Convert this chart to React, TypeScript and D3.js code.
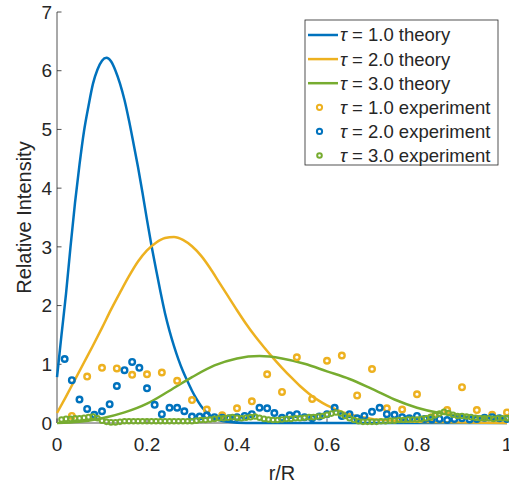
import React from "react";
import * as d3 from "d3";

// ---------- data ----------
const blueTheoryX = [0, 0.01, 0.02, 0.03, 0.04, 0.05, 0.06, 0.07, 0.08, 0.09, 0.1, 0.11, 0.12, 0.13, 0.14, 0.15, 0.16, 0.17, 0.18, 0.19, 0.2, 0.21, 0.22, 0.23, 0.24, 0.25, 0.26, 0.27, 0.28, 0.29, 0.3, 0.31, 0.32, 0.33, 0.34, 0.36, 0.38, 0.42, 0.5, 1.0];
const blueTheoryY = [0.78, 1.5, 2.2, 3.0, 3.75, 4.4, 4.97, 5.4, 5.78, 6.02, 6.17, 6.22, 6.16, 6.0, 5.78, 5.5, 5.15, 4.76, 4.36, 3.92, 3.46, 3.02, 2.62, 2.23, 1.87, 1.57, 1.31, 1.08, 0.88, 0.71, 0.55, 0.41, 0.29, 0.2, 0.13, 0.05, 0.02, 0, 0, 0];

const orangeTheoryX = [0, 0.02, 0.04, 0.06, 0.08, 0.1, 0.12, 0.14, 0.16, 0.18, 0.2, 0.22, 0.24, 0.26, 0.28, 0.3, 0.32, 0.34, 0.36, 0.38, 0.4, 0.42, 0.44, 0.46, 0.48, 0.5, 0.52, 0.54, 0.56, 0.58, 0.6, 0.62, 0.64, 0.66, 0.68, 0.7, 0.75, 0.8, 0.9, 1.0];
const orangeTheoryY = [0.17, 0.45, 0.74, 1.03, 1.32, 1.62, 1.93, 2.22, 2.5, 2.75, 2.94, 3.07, 3.15, 3.17, 3.12, 3.01, 2.85, 2.64, 2.4, 2.16, 1.92, 1.69, 1.48, 1.29, 1.11, 0.94, 0.78, 0.63, 0.5, 0.39, 0.3, 0.23, 0.17, 0.13, 0.1, 0.07, 0.04, 0.02, 0.01, 0];

const greenTheoryX = [0, 0.05, 0.1, 0.15, 0.2, 0.25, 0.3, 0.35, 0.4, 0.45, 0.5, 0.55, 0.6, 0.65, 0.7, 0.75, 0.8, 0.85, 0.9, 0.95, 1.0];
const greenTheoryY = [0, 0.02, 0.08, 0.18, 0.33, 0.55, 0.78, 0.98, 1.1, 1.14, 1.1, 1.01, 0.88, 0.75, 0.58, 0.4, 0.26, 0.17, 0.12, 0.09, 0.07];

// tau = 1.0 experiment (orange), x = 1/30 ... 30/30
const exp1X = [0.033, 0.067, 0.1, 0.133, 0.167, 0.2, 0.233, 0.267, 0.3, 0.333, 0.367, 0.4, 0.433, 0.467, 0.5, 0.533, 0.567, 0.6, 0.633, 0.667, 0.7, 0.733, 0.767, 0.8, 0.833, 0.867, 0.9, 0.933, 0.967, 1.0];
const exp1Y = [0.12, 0.79, 0.94, 0.93, 0.82, 0.83, 0.86, 0.72, 0.39, 0.23, 0.13, 0.25, 0.37, 0.83, 0.53, 1.12, 0.41, 1.06, 1.15, 0.47, 0.92, 0.25, 0.23, 0.49, 0.1, 0.22, 0.61, 0.22, 0.14, 0.18];

// tau = 2.0 experiment (blue), x = 1/60 ... 60/60
const exp2X = [0.017, 0.033, 0.05, 0.067, 0.083, 0.1, 0.117, 0.133, 0.15, 0.167, 0.183, 0.2, 0.217, 0.233, 0.25, 0.267, 0.283, 0.3, 0.317, 0.333, 0.35, 0.367, 0.383, 0.4, 0.417, 0.433, 0.45, 0.467, 0.483, 0.5, 0.517, 0.533, 0.55, 0.567, 0.583, 0.6, 0.617, 0.633, 0.65, 0.667, 0.683, 0.7, 0.717, 0.733, 0.75, 0.767, 0.783, 0.8, 0.817, 0.833, 0.85, 0.867, 0.883, 0.9, 0.917, 0.933, 0.95, 0.967, 0.983, 1.0];
const exp2Y = [1.09, 0.73, 0.4, 0.24, 0.14, 0.2, 0.32, 0.63, 0.9, 1.04, 0.94, 0.59, 0.31, 0.15, 0.26, 0.26, 0.2, 0.11, 0.11, 0.13, 0.1, 0.09, 0.08, 0.1, 0.12, 0.15, 0.26, 0.25, 0.17, 0.09, 0.13, 0.15, 0.1, 0.08, 0.11, 0.15, 0.26, 0.12, 0.15, 0.08, 0.12, 0.19, 0.26, 0.15, 0.14, 0.1, 0.08, 0.12, 0.07, 0.06, 0.07, 0.05, 0.07, 0.08, 0.06, 0.07, 0.09, 0.1, 0.08, 0.07];

// tau = 3.0 experiment (green), x = 0.01 ... 1.00
const exp3X = [0.01, 0.02, 0.03, 0.04, 0.05, 0.06, 0.07, 0.08, 0.09, 0.1, 0.11, 0.12, 0.13, 0.14, 0.15, 0.16, 0.17, 0.18, 0.19, 0.2, 0.21, 0.22, 0.23, 0.24, 0.25, 0.26, 0.27, 0.28, 0.29, 0.3, 0.31, 0.32, 0.33, 0.34, 0.35, 0.36, 0.37, 0.38, 0.39, 0.4, 0.41, 0.42, 0.43, 0.44, 0.45, 0.46, 0.47, 0.48, 0.49, 0.5, 0.51, 0.52, 0.53, 0.54, 0.55, 0.56, 0.57, 0.58, 0.59, 0.6, 0.61, 0.62, 0.63, 0.64, 0.65, 0.66, 0.67, 0.68, 0.69, 0.7, 0.71, 0.72, 0.73, 0.74, 0.75, 0.76, 0.77, 0.78, 0.79, 0.8, 0.81, 0.82, 0.83, 0.84, 0.85, 0.86, 0.87, 0.88, 0.89, 0.9, 0.91, 0.92, 0.93, 0.94, 0.95, 0.96, 0.97, 0.98, 0.99, 1.0];
const exp3Y = [0.06, 0.07, 0.07, 0.08, 0.08, 0.09, 0.1, 0.11, 0.08, 0.04, 0.02, 0.01, 0.01, 0.02, 0.03, 0.03, 0.03, 0.03, 0.03, 0.03, 0.03, 0.03, 0.03, 0.03, 0.03, 0.03, 0.03, 0.03, 0.03, 0.03, 0.04, 0.05, 0.05, 0.06, 0.07, 0.08, 0.08, 0.09, 0.1, 0.09, 0.08, 0.09, 0.1, 0.11, 0.09, 0.07, 0.06, 0.05, 0.05, 0.06, 0.07, 0.07, 0.08, 0.08, 0.09, 0.1, 0.1, 0.11, 0.12, 0.14, 0.16, 0.18, 0.16, 0.12, 0.08, 0.05, 0.03, 0.02, 0.02, 0.02, 0.02, 0.03, 0.03, 0.04, 0.04, 0.05, 0.05, 0.06, 0.06, 0.06, 0.07, 0.08, 0.1, 0.13, 0.16, 0.19, 0.17, 0.14, 0.12, 0.12, 0.11, 0.1, 0.09, 0.08, 0.08, 0.08, 0.07, 0.08, 0.08, 0.08];

const xTicks = [0, 0.2, 0.4, 0.6, 0.8, 1];
const xTickLabels = ["0", "0.2", "0.4", "0.6", "0.8", "1"];
const yTicks = [0, 1, 2, 3, 4, 5, 6, 7];

const legendTaus = ["1.0", "2.0", "3.0"];
const legendKinds = ["theory", "theory", "theory", "experiment", "experiment", "experiment"];

const BLUE = "#0072BD";
const ORANGE = "#EDB120";
const GREEN = "#77AC30";
const TEXT = "#262626";
const FONT = "'Liberation Sans', Arial, Helvetica, sans-serif";

export default function App() {
  const W = 509;
  const H = 489;
  const x = d3.scaleLinear().domain([0, 1]).range([57, 507]);
  const y = d3.scaleLinear().domain([0, 7]).range([423, 12]);

  const line = d3
    .line<[number, number]>()
    .x((d) => x(d[0]))
    .y((d) => y(d[1]))
    .curve(d3.curveMonotoneX);

  const zip = (a: number[], b: number[]) => a.map((v, i) => [v, b[i]] as [number, number]);

  const theory = [
    { pts: zip(blueTheoryX, blueTheoryY), color: BLUE },
    { pts: zip(orangeTheoryX, orangeTheoryY), color: ORANGE },
    { pts: zip(greenTheoryX, greenTheoryY), color: GREEN },
  ];
  const exps = [
    { pts: zip(exp1X, exp1Y), color: ORANGE, r: 2.8, sw: 2.4 },
    { pts: zip(exp2X, exp2Y), color: BLUE, r: 2.8, sw: 2.4 },
    { pts: zip(exp3X, exp3Y), color: GREEN, r: 2.3, sw: 2 },
  ];

  const legendColors = [BLUE, ORANGE, GREEN, ORANGE, BLUE, GREEN];
  const lg = { x: 305, y: 20, w: 193, h: 145 };
  const rowY = (i: number) => 35 + i * 24.1;

  return (
    <svg
      width={W}
      height={H}
      style={{ position: "absolute", left: 0, top: 0, background: "#fff" }}
      fontFamily={FONT}
    >
      <rect x={0} y={0} width={W} height={H} fill="#fff" />
      {/* axes */}
      <line x1={x(0)} y1={y(7)} x2={x(0)} y2={y(0)} stroke={TEXT} strokeWidth={0.8} />
      <line x1={x(0)} y1={y(0)} x2={x(1)} y2={y(0)} stroke={TEXT} strokeWidth={0.8} />
      {yTicks.map((t) => (
        <g key={"yt" + t}>
          <line x1={x(0)} x2={x(0) + 4.5} y1={y(t)} y2={y(t)} stroke={TEXT} strokeWidth={0.8} />
          <text x={52} y={y(t)} dy="0.35em" textAnchor="end" fontSize={19} fill={TEXT}>
            {t}
          </text>
        </g>
      ))}
      {xTicks.map((t, i) => (
        <g key={"xt" + t}>
          <line x1={x(t)} x2={x(t)} y1={y(0)} y2={y(0) - 4.5} stroke={TEXT} strokeWidth={0.8} />
          <text x={x(t)} y={451} textAnchor="middle" fontSize={19} fill={TEXT}>
            {xTickLabels[i]}
          </text>
        </g>
      ))}
      <text x={(x(0) + x(1)) / 2} y={480} textAnchor="middle" fontSize={20} fill={TEXT}>
        r/R
      </text>
      <text
        transform={`translate(31,${(y(0) + y(7)) / 2}) rotate(-90)`}
        textAnchor="middle"
        fontSize={20}
        fill={TEXT}
      >
        Relative Intensity
      </text>

      {/* theory lines */}
      {theory.map((s, i) => (
        <path key={"th" + i} d={line(s.pts) || ""} fill="none" stroke={s.color} strokeWidth={2.5} strokeLinejoin="round" />
      ))}

      {/* experiment markers */}
      {exps.map((s, i) => (
        <g key={"ex" + i}>
          {s.pts.map((p, j) => (
            <circle key={j} cx={x(p[0])} cy={y(p[1])} r={s.r} fill="none" stroke={s.color} strokeWidth={s.sw} />
          ))}
        </g>
      ))}

      {/* legend */}
      <rect x={lg.x} y={lg.y} width={lg.w} height={lg.h} fill="#fff" stroke="#262626" strokeWidth={0.8} />
      {legendKinds.map((kind, i) => (
        <g key={"lg" + i}>
          {kind === "theory" ? (
            <line x1={308} x2={338} y1={rowY(i)} y2={rowY(i)} stroke={legendColors[i]} strokeWidth={2.5} />
          ) : (
            <circle cx={319.5} cy={rowY(i)} r={i === 5 ? 2.3 : 2.6} fill="none" stroke={legendColors[i]} strokeWidth={2} />
          )}
          <text x={340} y={rowY(i)} dy="0.35em" fontSize={18.5} fill={TEXT}>
            <tspan fontStyle="italic">τ</tspan>
            {` = ${legendTaus[i % 3]} ${kind}`}
          </text>
        </g>
      ))}
    </svg>
  );
}
